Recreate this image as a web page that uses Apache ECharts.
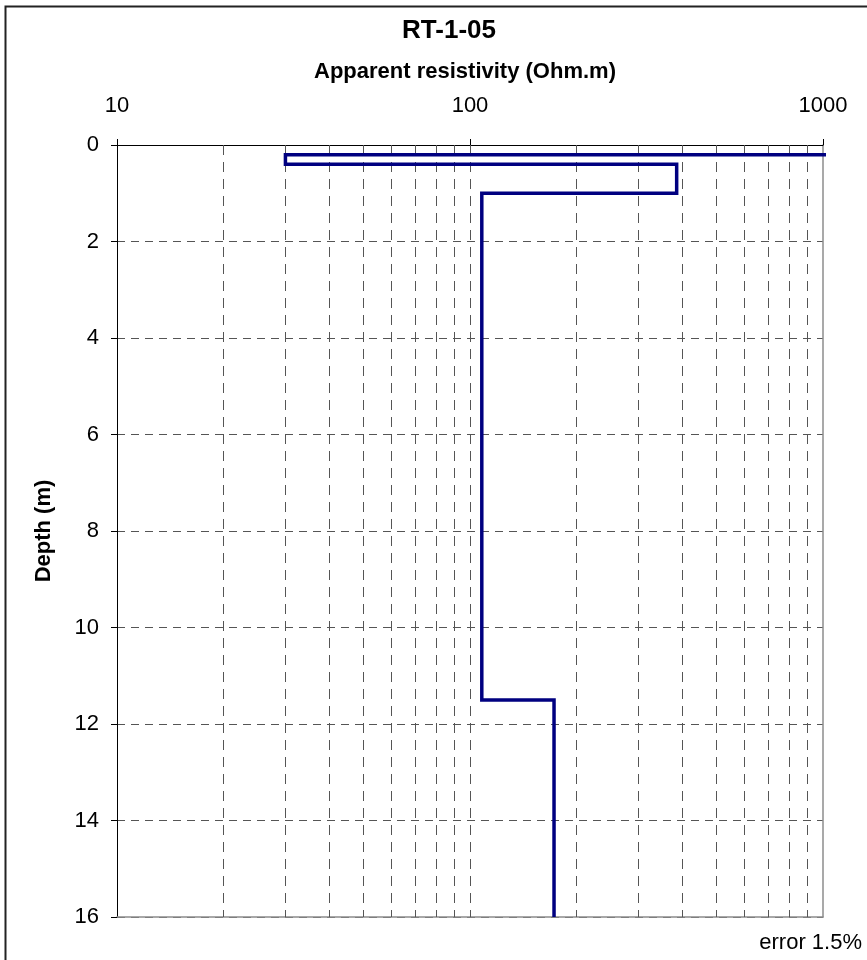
<!DOCTYPE html>
<html>
<head>
<meta charset="utf-8">
<script src="https://cdn.jsdelivr.net/npm/echarts@6/dist/echarts.min.js"></script>
<style>html,body{margin:0;padding:0;background:#fff}#c{width:867px;height:960px}</style>
</head>
<body>
<div id="c"></div>
<script>
// Layer model
const layerResistivity = [1200, 30, 385, 108, 173];   // Ohm.m (first layer off-scale to the right)
const layerBottom = [0.2, 0.4, 1.0, 11.5, 16];         // depth (m) of each layer bottom
const xTickLabels = ['10', '100', '1000'];
const yTickLabels = ['0','2','4','6','8','10','12','14','16'];
const gridValues = [20,30,40,50,60,70,80,90,100,200,300,400,500,600,700,800,900];

// step profile built from the layers
const steps = [];
let layerTop = 0;
for (let i = 0; i < layerResistivity.length; i++) {
  steps.push([layerResistivity[i], layerTop]);
  steps.push([layerResistivity[i], layerBottom[i]]);
  layerTop = layerBottom[i];
}

const chart = echarts.init(document.getElementById('c'), null, {renderer: 'canvas'});
const font = 'Arial, "Liberation Sans", sans-serif';
chart.setOption({
  animation: false,
  backgroundColor: '#fff',
  grid: {left: 117, right: 44, top: 145, bottom: 43, containLabel: false},
  xAxis: [{
    type: 'log', logBase: 10, min: 10, max: 1000, position: 'top',
    axisLine: {show: true, lineStyle: {color: '#000', width: 1}},
    axisTick: {show: true, length: 6, lineStyle: {color: '#000'}},
    splitLine: {show: false},
    axisLabel: {color: '#000', fontSize: 22, fontFamily: font, margin: 28,
      formatter: v => { const s = String(Math.round(v)); return xTickLabels.includes(s) ? s : ''; }}
  }, {
    type: 'log', logBase: 10, min: 10, max: 1000, position: 'bottom',
    axisLine: {show: true, onZero: false, lineStyle: {color: '#8c8c8c', width: 1.5}},
    axisTick: {show: false}, axisLabel: {show: false}, splitLine: {show: false}
  }],
  yAxis: [{
    type: 'value', inverse: true, min: 0, max: 16, interval: 2,
    name: 'Depth (m)', nameLocation: 'middle', nameGap: 62, nameRotate: 90,
    nameTextStyle: {color: '#000', fontSize: 22, fontWeight: 'bold', fontFamily: font},
    axisLine: {show: true, onZero: false, lineStyle: {color: '#000', width: 1}},
    axisTick: {show: true, length: 6, lineStyle: {color: '#000'}},
    axisLabel: {color: '#000', fontSize: 22, fontFamily: font, margin: 18,
      formatter: v => yTickLabels[Math.round(v / 2)] ?? ''},
    splitLine: {show: true, lineStyle: {color: '#555', width: 1, type: [8, 6]}}
  }, {
    type: 'value', inverse: true, min: 0, max: 16, position: 'right',
    axisLine: {show: true, onZero: false, lineStyle: {color: '#8c8c8c', width: 1.5}},
    axisTick: {show: false}, axisLabel: {show: false}, splitLine: {show: false}
  }],
  series: [{
    type: 'line', xAxisIndex: 0, yAxisIndex: 0,
    data: steps, showSymbol: false, symbol: 'none', clip: true,
    lineStyle: {color: '#000080', width: 3.5, join: 'miter'},
    z: 5,
    markLine: {
      silent: true, symbol: 'none', label: {show: false},
      lineStyle: {color: '#555', width: 1, type: [10, 7]},
      data: gridValues.map(v => ({xAxis: v}))
    }
  }],
  graphic: [
    {type: 'rect', shape: {x: 5.5, y: 6.5, width: 900, height: 1000}, style: {fill: 'none', stroke: '#222', lineWidth: 2}, z: 100},
    {type: 'text', x: 449, y: 31, style: {text: 'RT-1-05', fill: '#000', font: 'bold 26px ' + font, textAlign: 'center', textVerticalAlign: 'middle'}},
    {type: 'text', x: 465, y: 72, style: {text: 'Apparent resistivity (Ohm.m)', fill: '#000', font: 'bold 22px ' + font, textAlign: 'center', textVerticalAlign: 'middle'}},
    {type: 'text', x: 862, y: 943, style: {text: 'error 1.5%', fill: '#000', font: '22px ' + font, textAlign: 'right', textVerticalAlign: 'middle'}}
  ]
});
</script>
</body>
</html>
